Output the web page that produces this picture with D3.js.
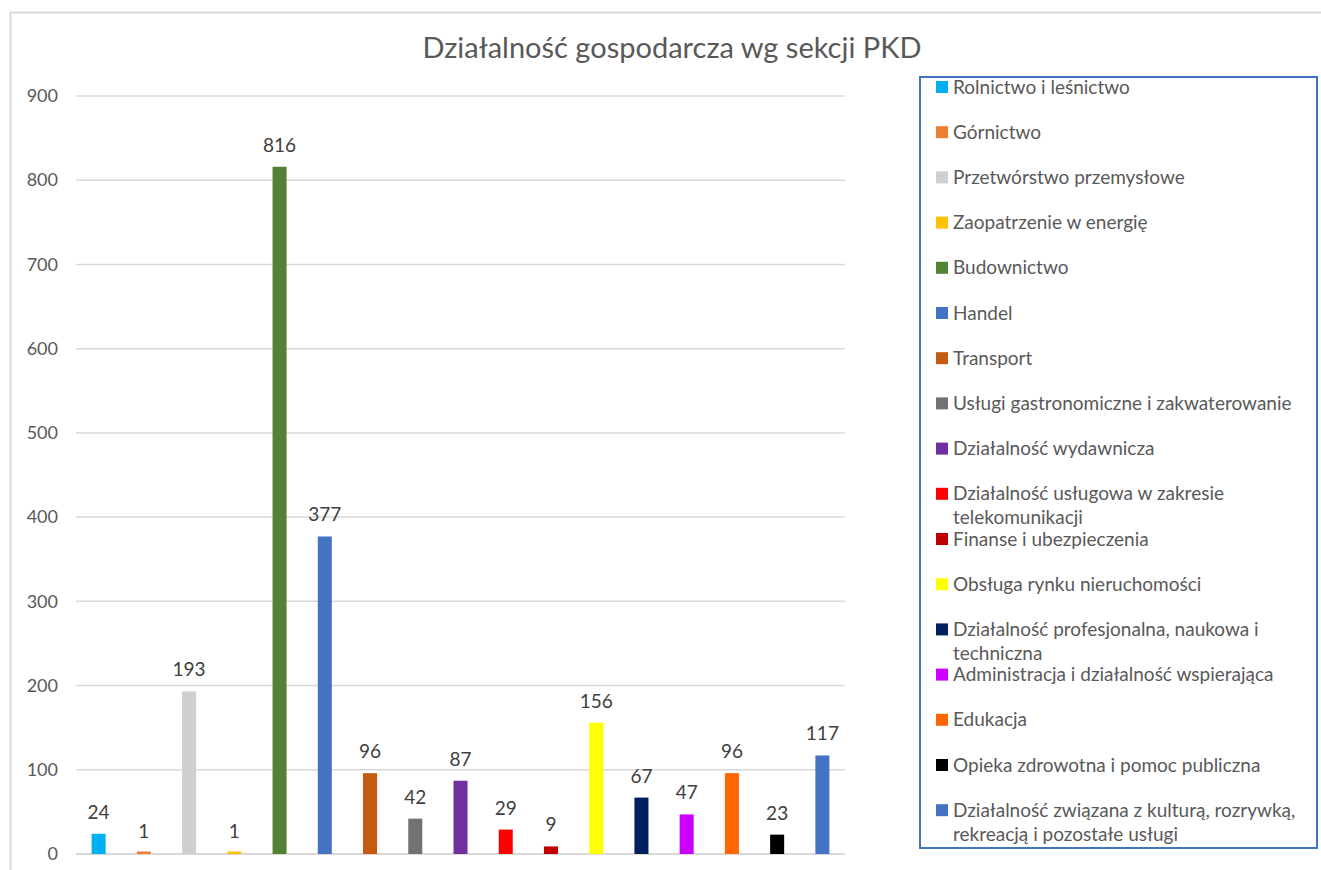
<!DOCTYPE html>
<html>
<head>
<meta charset="utf-8">
<script src="https://cdn.jsdelivr.net/npm/d3@7"></script>
<style>
  body { margin: 0; background: #fff; }
  svg { display: block; font-family: Lato, "Open Sans", sans-serif; }
</style>
</head>
<body>
<div id="chart"></div>
<script>
// data: PKD sections, counts, bar colours
const categories = [
  'Rolnictwo i leśnictwo',
  'Górnictwo',
  'Przetwórstwo przemysłowe',
  'Zaopatrzenie w energię',
  'Budownictwo',
  'Handel',
  'Transport',
  'Usługi gastronomiczne i zakwaterowanie',
  'Działalność wydawnicza',
  'Działalność usługowa w zakresie|telekomunikacji',
  'Finanse i ubezpieczenia',
  'Obsługa rynku nieruchomości',
  'Działalność profesjonalna, naukowa i|techniczna',
  'Administracja i działalność wspierająca',
  'Edukacja',
  'Opieka zdrowotna i pomoc publiczna',
  'Działalność związana z kulturą, rozrywką,|rekreacją i pozostałe usługi'
];
const values = [24, 1, 193, 1, 816, 377, 96, 42, 87, 29, 9, 156, 67, 47, 96, 23, 117];
const colors = [
  '#00B0F0', '#ED7D31', '#D0CECE', '#FFC000', '#548235', '#4472C4',
  '#C55A11', '#767171', '#7030A0', '#FF0000', '#C00000', '#FFFF00',
  '#002060', '#CC00FF', '#FF6600', '#000000', '#4472C4'
];
const yTicks = [0, 100, 200, 300, 400, 500, 600, 700, 800, 900];
const titleText = 'Działalność gospodarcza wg sekcji PKD';

const width = 1321, height = 870;
const textColor = '#595959';

const svg = d3.select('#chart').append('svg')
  .attr('width', width)
  .attr('height', height);

// chart area border (only top + left are visible in the shot)
svg.append('path')
  .attr('d', 'M10.5,' + height + 'V12.5H' + width)
  .attr('fill', 'none')
  .attr('stroke', '#d9d9d9')
  .attr('stroke-width', 2);

// title
svg.append('text')
  .attr('x', 672)
  .attr('y', 58)
  .attr('text-anchor', 'middle')
  .attr('fill', textColor)
  .attr('font-size', 29)
  .text(titleText);

// scales
const x = d3.scaleBand()
  .domain(d3.range(categories.length))
  .range([76, 845])
  .paddingInner(0.69)
  .paddingOuter(0.345);

const y = d3.scaleLinear()
  .domain([0, 900])
  .range([854, 96]);

// gridlines
svg.append('g')
  .selectAll('line')
  .data(yTicks)
  .join('line')
  .attr('x1', 76)
  .attr('x2', 845)
  .attr('y1', d => y(d))
  .attr('y2', d => y(d))
  .attr('stroke', '#d9d9d9')
  .attr('stroke-width', d => d === 0 ? 2 : 1.5);

// y axis labels
const yAxis = svg.append('g')
  .attr('transform', 'translate(58,0)')
  .call(d3.axisLeft(y).tickValues(yTicks).tickSize(0).tickPadding(0));
yAxis.select('.domain').remove();
yAxis.selectAll('text')
  .attr('fill', textColor)
  .attr('font-size', 18)
  .attr('font-family', 'Lato, sans-serif');

// bars (tiny values still get a visible sliver, like the original)
svg.append('g')
  .selectAll('rect')
  .data(values)
  .join('rect')
  .attr('x', (d, i) => x(i))
  .attr('width', x.bandwidth())
  .attr('y', d => Math.min(y(d), y(0) - 2.5))
  .attr('height', d => Math.max(y(0) - y(d), 2.5))
  .attr('fill', (d, i) => colors[i]);

// value labels
svg.append('g')
  .selectAll('text')
  .data(values)
  .join('text')
  .attr('x', (d, i) => x(i) + x.bandwidth() / 2)
  .attr('y', d => y(d) - 15)
  .attr('text-anchor', 'middle')
  .attr('fill', '#404040')
  .attr('font-size', 19)
  .text(d => d);

// legend
const legend = svg.append('g');
const rowStep = 45.2;

const items = legend.selectAll('g')
  .data(categories)
  .join('g')
  .attr('transform', (d, i) => 'translate(936,' + (87 + i * rowStep) + ')');

items.append('rect')
  .attr('x', 0)
  .attr('y', -6)
  .attr('width', 12)
  .attr('height', 12)
  .attr('fill', (d, i) => colors[i]);

items.append('text')
  .attr('fill', textColor)
  .attr('font-size', 19)
  .selectAll('tspan')
  .data(d => d.split('|'))
  .join('tspan')
  .attr('x', 17)
  .attr('y', (d, j) => j * 24)
  .attr('dy', '0.35em')
  .text(d => d);

// legend frame
legend.append('rect')
  .attr('x', 920)
  .attr('y', 77)
  .attr('width', 397)
  .attr('height', 771)
  .attr('fill', 'none')
  .attr('stroke', '#4472C4')
  .attr('stroke-width', 2);
</script>
</body>
</html>
